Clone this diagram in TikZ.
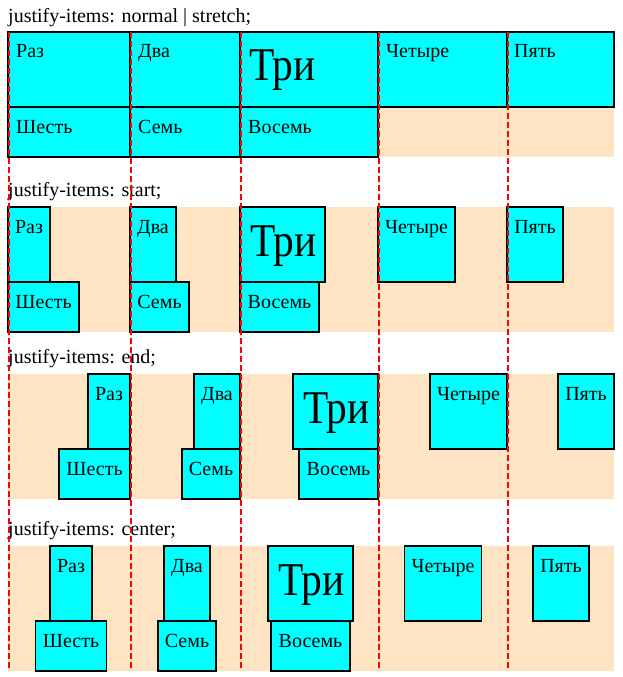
\documentclass[tikz,border=0pt]{standalone}
\usepackage{fontspec}
\usepackage{graphicx}
\setmainfont{Liberation Serif}
\definecolor{bisqueC}{RGB}{255,228,196}
\definecolor{aquaC}{RGB}{0,255,255}
\tikzset{
  itembox/.style={draw=black, line width=1.3pt, fill=aquaC, anchor=north west, inner sep=0pt, outer sep=0pt, rectangle},
  txtc/.style={anchor=base, inner sep=0pt, font=\fontsize{20}{24}\selectfont},
  txtw/.style={anchor=base west, inner sep=0pt, font=\fontsize{20}{24}\selectfont},
  bigc/.style={anchor=base, inner sep=0pt, font=\fontsize{47}{56}\selectfont},
  bigw/.style={anchor=base west, inner sep=0pt, font=\fontsize{47}{56}\selectfont},
  lbl/.style={anchor=base west, inner sep=0pt, font=\fontsize{20}{24}\selectfont},
  bgarea/.style={fill=bisqueC, draw=none},
  guide/.style={draw=red, line width=2pt, dash pattern=on 6pt off 3pt},
}
\newcommand\tri{\scalebox{0.88}[1]{Три}}
% name, left, top, width, height, anchor point, offset, text style, text
\newcommand\gitem[9]{%
  \node[itembox, minimum width=#4pt, minimum height=#5pt] (#1) at (#2,#3) {};
  \path (#1.#6) ++#7 node[#8] (#1-t) {#9};}
\begin{document}
\begin{tikzpicture}[x=1pt, y=-1pt]
\useasboundingbox[fill=white] (0,0) rectangle (623,677);

% section backgrounds
\fill[bgarea] (8,32) rectangle (614,157);
\fill[bgarea] (8,207) rectangle (614,332);
\fill[bgarea] (8,374) rectangle (614,499);
\fill[bgarea] (8,546) rectangle (614,671);

% labels
\node[lbl] (l1) at (8,23) {justify-items: normal | stretch;};
\node[lbl] (l2) at (8,196) {justify-items: start;};
\node[lbl] (l3) at (8,363) {justify-items: end;};
\node[lbl] (l4) at (8,535) {justify-items: center;};

% section 1: stretch
\gitem{a1}{8}{32}{122}{75}{north west}{(8,26)}{txtw}{Раз}
\gitem{a2}{130}{32}{110}{75}{north west}{(8,26)}{txtw}{Два}
\gitem{a3}{240}{32}{138}{75}{north west}{(9,49)}{bigw}{\tri}
\gitem{a4}{378}{32}{129}{75}{north west}{(8,26)}{txtw}{Четыре}
\gitem{a5}{507}{32}{107}{75}{north west}{(7,26)}{txtw}{Пять}
\gitem{a6}{8}{107}{122}{50}{north west}{(8,26)}{txtw}{Шесть}
\gitem{a7}{130}{107}{110}{50}{north west}{(8,26)}{txtw}{Семь}
\gitem{a8}{240}{107}{138}{50}{north west}{(8,26)}{txtw}{Восемь}

% section 2: start
\gitem{b1}{8}{207}{42}{75}{north}{(0,26)}{txtc}{Раз}
\gitem{b2}{130}{207}{46}{75}{north}{(0,26)}{txtc}{Два}
\gitem{b3}{240}{207}{85}{75}{north}{(1,49)}{bigc}{\tri}
\gitem{b4}{378}{207}{77}{75}{north}{(0,26)}{txtc}{Четыре}
\gitem{b5}{507}{207}{56}{75}{north}{(0,26)}{txtc}{Пять}
\gitem{b6}{8}{282}{71}{50}{north}{(0,26)}{txtc}{Шесть}
\gitem{b7}{130}{282}{59}{50}{north}{(0,26)}{txtc}{Семь}
\gitem{b8}{240}{282}{79}{50}{north}{(0,26)}{txtc}{Восемь}

% section 3: end
\gitem{c1}{88}{374}{42}{75}{north}{(0,26)}{txtc}{Раз}
\gitem{c2}{194}{374}{46}{75}{north}{(0,26)}{txtc}{Два}
\gitem{c3}{293}{374}{85}{75}{north}{(1,49)}{bigc}{\tri}
\gitem{c4}{430}{374}{77}{75}{north}{(0,26)}{txtc}{Четыре}
\gitem{c5}{558}{374}{56}{75}{north}{(0,26)}{txtc}{Пять}
\gitem{c6}{59}{449}{71}{50}{north}{(0,26)}{txtc}{Шесть}
\gitem{c7}{182}{449}{58}{50}{north}{(0,26)}{txtc}{Семь}
\gitem{c8}{299}{449}{79}{50}{north}{(0,26)}{txtc}{Восемь}

% section 4: center
\gitem{d1}{50}{546}{42}{75}{north}{(0,26)}{txtc}{Раз}
\gitem{d2}{164}{546}{46}{75}{north}{(0,26)}{txtc}{Два}
\gitem{d3}{268}{546}{85}{75}{north}{(1,49)}{bigc}{\tri}
\gitem{d4}{404.5}{546}{77}{75}{north}{(0,26)}{txtc}{Четыре}
\gitem{d5}{533}{546}{56}{75}{north}{(0,26)}{txtc}{Пять}
\gitem{d6}{35.5}{621}{71}{50}{north}{(0,26)}{txtc}{Шесть}
\gitem{d7}{158}{621}{58}{50}{north}{(0,26)}{txtc}{Семь}
\gitem{d8}{271}{621}{79}{50}{north}{(0,26)}{txtc}{Восемь}

% grid lines overlay
\foreach \i/\x in {1/8.5, 2/130.5, 3/240.5, 4/378.5, 5/507.5} {
  \coordinate (g\i t) at (\x,32);
  \coordinate (g\i b) at (\x,670);
  \draw[guide] (g\i t) -- (g\i b);
}
\end{tikzpicture}
\end{document}
